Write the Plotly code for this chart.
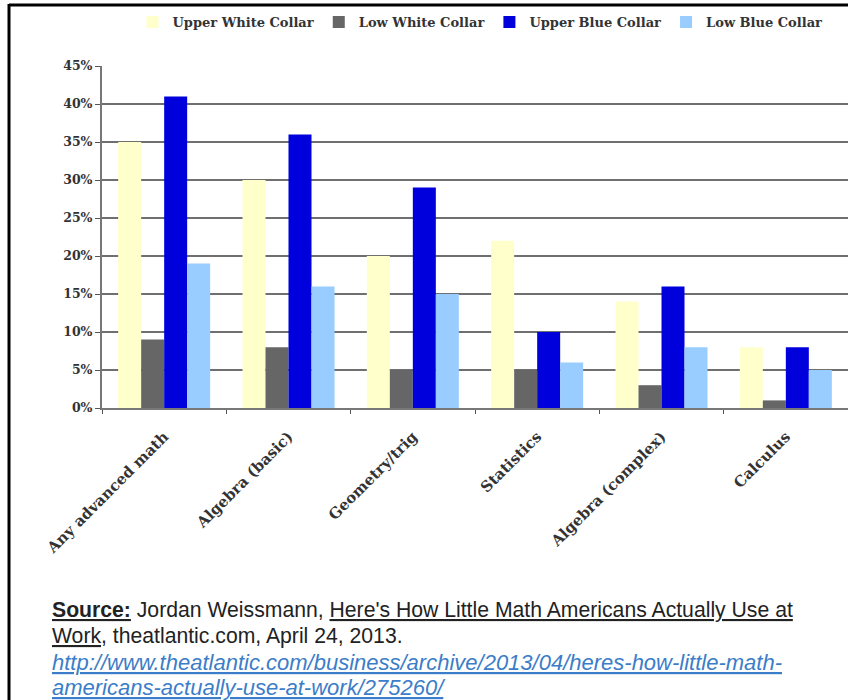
import plotly.graph_objects as go

categories = ["Any advanced math", "Algebra (basic)", "Geometry/trig", "Statistics",
              "Algebra (complex)", "Calculus"]
series_names = ["Upper White Collar", "Low White Collar", "Upper Blue Collar", "Low Blue Collar"]
upper_white = [35, 30, 20, 22, 14, 8]
low_white = [9, 8, 5, 5, 3, 1]
upper_blue = [41, 36, 29, 10, 16, 8]
low_blue = [19, 16, 15, 6, 8, 5]
y_ticks = [0, 5, 10, 15, 20, 25, 30, 35, 40, 45]

colors = ["#FFFFCC", "#666666", "#0000DD", "#99CCFF"]
series_values = [upper_white, low_white, upper_blue, low_blue]

W, H = 848, 700
L, R, T, B = 102, 0, 66, 292
pw, ph = W - L - R, H - T - B

def px(x):
    return (x - L) / pw

def py(y):
    return (H - B - y) / ph

serif = "DejaVu Serif"
fig = go.Figure()
for name, vals, c in zip(series_names, series_values, colors):
    fig.add_trace(go.Bar(x=categories, y=vals, name=name, marker=dict(color=c, line=dict(width=0))))

fig.update_layout(
    width=W, height=H,
    margin=dict(l=L, r=R, t=T, b=B),
    paper_bgcolor="white", plot_bgcolor="white",
    barmode="group", bargap=0.26, bargroupgap=0,
    showlegend=True,
    legend=dict(orientation="h", x=px(480), xanchor="center", y=py(22), yanchor="middle",
                font=dict(family=serif, size=13, color="#333333", weight="bold"),
                itemwidth=30, tracegroupgap=0, bgcolor="rgba(0,0,0,0)"),
    xaxis=dict(type="category", showline=True, linecolor="#777777", linewidth=2,
               ticks="outside", tickson="boundaries", ticklen=4, tickcolor="#555555",
               tickangle=-45, ticklabelstandoff=12,
               tickfont=dict(family=serif, size=15, color="#333333", weight="bold"),
               showgrid=False, fixedrange=True),
    yaxis=dict(range=[0, 45], tickvals=y_ticks, ticktext=[f"{v}%" for v in y_ticks],
               showline=True, linecolor="#777777", linewidth=2,
               ticks="outside", ticklen=5, tickcolor="#555555",
               tickfont=dict(family=serif, size=12.5, color="#333333", weight="bold"),
               showgrid=True, gridcolor="#6f6f6f", gridwidth=2, zeroline=False),
)

# Frame lines (top and left border of the picture)
fig.add_shape(type="line", xref="paper", yref="paper", x0=px(9), x1=px(848), y0=py(5), y1=py(5),
              line=dict(color="black", width=3))
fig.add_shape(type="line", xref="paper", yref="paper", x0=px(9), x1=px(9), y0=py(4), y1=py(700),
              line=dict(color="black", width=3))

sans = "Liberation Sans"
src_lines = [
    "<u><b>Source:</b></u> Jordan Weissmann, <u>Here's How Little Math Americans Actually Use at</u>",
    "<u>Work</u>, theatlantic.com, April 24, 2013.",
    "<i><u>http://www.theatlantic.com/business/archive/2013/04/heres-how-little-math-</u></i>",
    "<i><u>americans-actually-use-at-work/275260/</u></i>",
]
src_y = [610, 636, 662, 687]
src_col = ["#222222", "#222222", "#3B7DC8", "#3B7DC8"]
src_size = [21.2, 21.2, 22, 22]
for t, yy, c, s in zip(src_lines, src_y, src_col, src_size):
    fig.add_annotation(text=t, xref="paper", yref="paper", x=px(50), y=py(yy),
                       xanchor="left", yanchor="middle", showarrow=False,
                       font=dict(family=sans, size=s, color=c))

fig.write_html("out.html")
